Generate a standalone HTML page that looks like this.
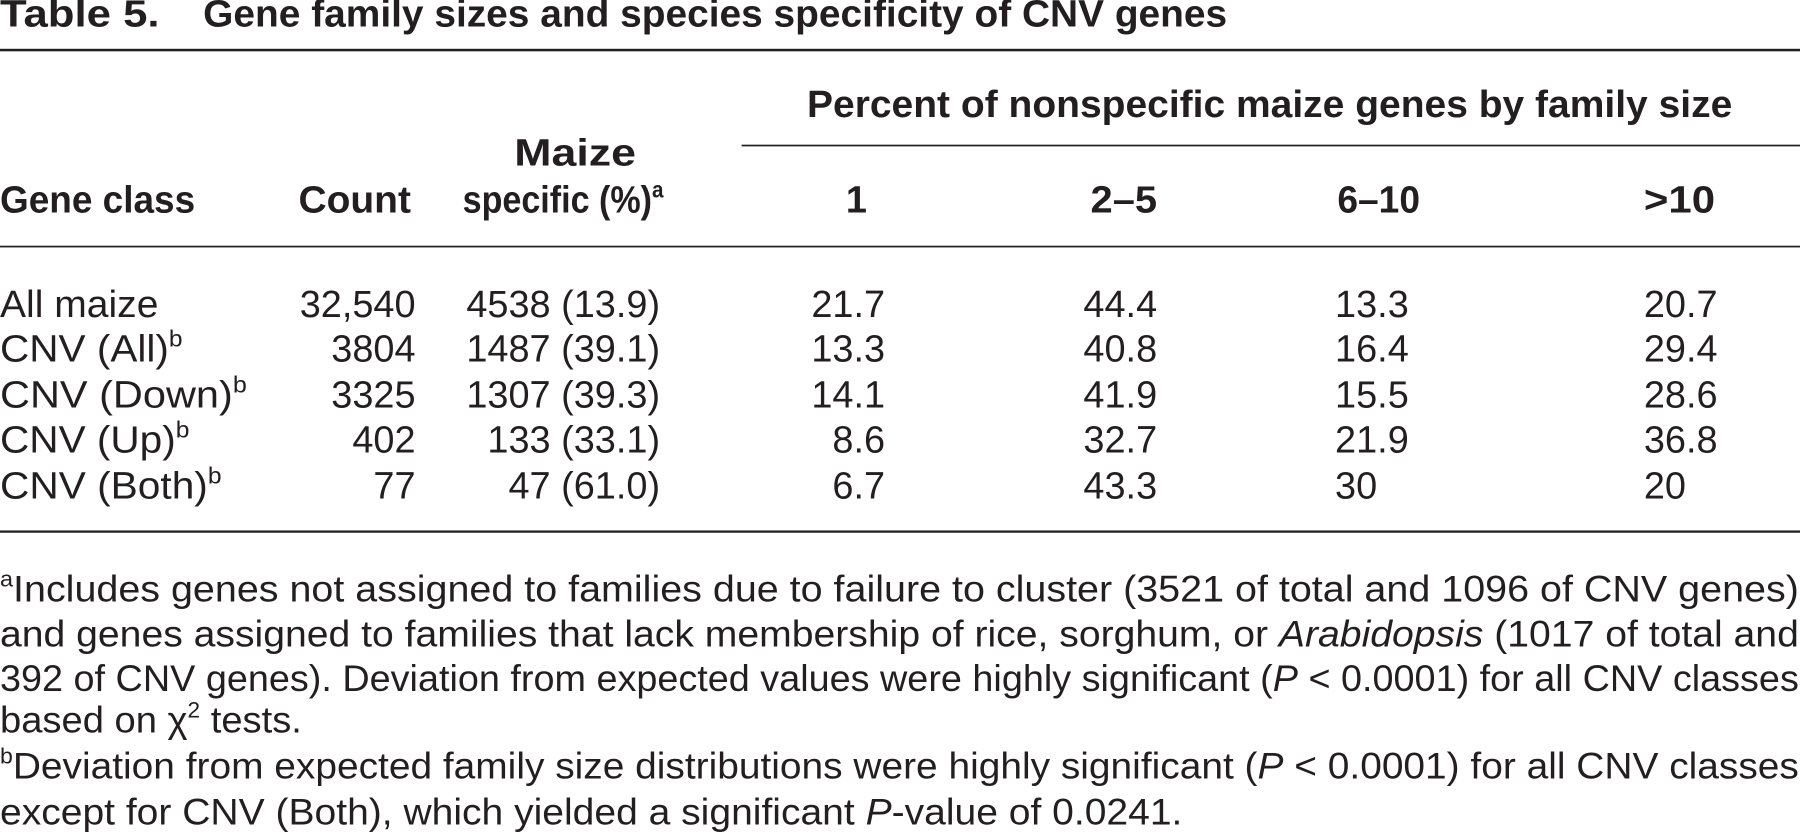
<!DOCTYPE html>
<html><head><meta charset="utf-8"><style>
html,body{margin:0;padding:0;background:#fff;}
svg{display:block;font-family:"Liberation Sans",sans-serif;}
text{fill:#231f20;font-size:33px;}
.b{font-weight:bold;}
.f{font-size:32px;}
</style></head><body>
<svg width="1800" height="837" viewBox="0 0 1568 729" preserveAspectRatio="none">
<g>
<text class="b" x="0" y="23" textLength="139" lengthAdjust="spacingAndGlyphs">Table 5.</text>
<text class="b" x="177" y="23" textLength="892" lengthAdjust="spacingAndGlyphs">Gene family sizes and species specificity of CNV genes</text>
</g>
<rect x="0" y="42.5" width="1568" height="2.2" fill="#231f20"/>
<g>
<text class="b" x="703" y="102" textLength="806" lengthAdjust="spacingAndGlyphs">Percent of nonspecific maize genes by family size</text>
<rect x="646" y="126" width="922" height="1.5" fill="#231f20"/>
<text class="b" x="0" y="185" textLength="170" lengthAdjust="spacingAndGlyphs">Gene class</text>
<text class="b" x="260" y="185" textLength="98" lengthAdjust="spacingAndGlyphs">Count</text>
<text class="b" x="448" y="144" textLength="106" lengthAdjust="spacingAndGlyphs">Maize</text>
<text class="b" x="403" y="185" textLength="175" lengthAdjust="spacingAndGlyphs">specific (%)<tspan font-size="20" dy="-13">a</tspan></text>
<text class="b" x="746" y="185" text-anchor="middle">1</text>
<text class="b" x="950" y="185" textLength="58" lengthAdjust="spacingAndGlyphs">2–5</text>
<text class="b" x="1165" y="185" textLength="72" lengthAdjust="spacingAndGlyphs">6–10</text>
<text class="b" x="1432" y="185" textLength="62" lengthAdjust="spacingAndGlyphs">&gt;10</text>
</g>
<rect x="0" y="214" width="1568" height="1.5" fill="#231f20"/>
<g>
<text x="0" y="276" textLength="138" lengthAdjust="spacingAndGlyphs">All maize</text><text x="362" y="276" text-anchor="end">32,540</text><text x="575" y="276" text-anchor="end">4538 (13.9)</text><text x="771" y="276" text-anchor="end">21.7</text><text x="1008" y="276" text-anchor="end">44.4</text><text x="1163" y="276">13.3</text><text x="1432" y="276">20.7</text>
<text x="0" y="315" textLength="159" lengthAdjust="spacingAndGlyphs">CNV (All)<tspan font-size="20" dy="-13">b</tspan></text><text x="362" y="315" text-anchor="end">3804</text><text x="575" y="315" text-anchor="end">1487 (39.1)</text><text x="771" y="315" text-anchor="end">13.3</text><text x="1008" y="315" text-anchor="end">40.8</text><text x="1163" y="315">16.4</text><text x="1432" y="315">29.4</text>
<text x="0" y="355" textLength="215" lengthAdjust="spacingAndGlyphs">CNV (Down)<tspan font-size="20" dy="-13">b</tspan></text><text x="362" y="355" text-anchor="end">3325</text><text x="575" y="355" text-anchor="end">1307 (39.3)</text><text x="771" y="355" text-anchor="end">14.1</text><text x="1008" y="355" text-anchor="end">41.9</text><text x="1163" y="355">15.5</text><text x="1432" y="355">28.6</text>
<text x="0" y="394" textLength="165" lengthAdjust="spacingAndGlyphs">CNV (Up)<tspan font-size="20" dy="-13">b</tspan></text><text x="362" y="394" text-anchor="end">402</text><text x="575" y="394" text-anchor="end">133 (33.1)</text><text x="771" y="394" text-anchor="end">8.6</text><text x="1008" y="394" text-anchor="end">32.7</text><text x="1163" y="394">21.9</text><text x="1432" y="394">36.8</text>
<text x="0" y="434" textLength="193" lengthAdjust="spacingAndGlyphs">CNV (Both)<tspan font-size="20" dy="-13">b</tspan></text><text x="362" y="434" text-anchor="end">77</text><text x="575" y="434" text-anchor="end">47 (61.0)</text><text x="771" y="434" text-anchor="end">6.7</text><text x="1008" y="434" text-anchor="end">43.3</text><text x="1163" y="434">30</text><text x="1432" y="434">20</text>
</g>
<rect x="0" y="462" width="1568" height="2" fill="#231f20"/>
<g>
<text class="f" x="0" y="524" textLength="1567" lengthAdjust="spacingAndGlyphs"><tspan font-size="19" dy="-13">a</tspan><tspan dy="13">Includes genes not assigned to families due to failure to cluster (3521 of total and 1096 of CNV genes)</tspan></text>
<text class="f" x="0" y="563" textLength="1567" lengthAdjust="spacingAndGlyphs">and genes assigned to families that lack membership of rice, sorghum, or <tspan font-style="italic">Arabidopsis</tspan> (1017 of total and</text>
<text class="f" x="0" y="602" textLength="1567" lengthAdjust="spacingAndGlyphs">392 of CNV genes). Deviation from expected values were highly significant (<tspan font-style="italic">P</tspan> &lt; 0.0001) for all CNV classes</text>
<text class="f" x="0" y="638" textLength="263" lengthAdjust="spacingAndGlyphs">based on χ<tspan font-size="19" dy="-13">2</tspan><tspan dy="13"> tests.</tspan></text>
<text class="f" x="0" y="678" textLength="1567" lengthAdjust="spacingAndGlyphs"><tspan font-size="19" dy="-13">b</tspan><tspan dy="13">Deviation from expected family size distributions were highly significant (</tspan><tspan font-style="italic">P</tspan> &lt; 0.0001) for all CNV classes</text>
<text class="f" x="0" y="718" textLength="1030" lengthAdjust="spacingAndGlyphs">except for CNV (Both), which yielded a significant <tspan font-style="italic">P</tspan>-value of 0.0241.</text>
</g>
</svg>
</body></html>
